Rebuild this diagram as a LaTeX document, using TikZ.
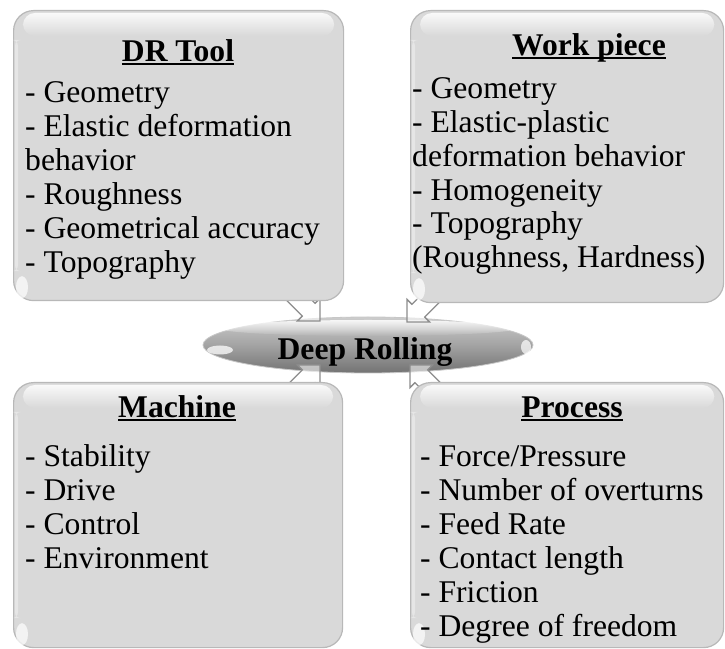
\documentclass[tikz,border=0pt]{standalone}
\usepackage{fontspec}
\setmainfont{Liberation Serif}
\usetikzlibrary{shapes.geometric,fadings,calc}

\tikzfading[name=glossfade, top color=transparent!15, bottom color=transparent!100]

\newcommand\headline[1]{\setbox0\hbox{#1}\rlap{\rule[-3.2pt]{\wd0}{1.7pt}}\box0}

\tikzset{
  panel/.style={rectangle, rounded corners=20pt, fill=black!15, draw=black!28,
    line width=1.2pt, anchor=north west, inner sep=0pt},
  item/.style={anchor=base west, inner sep=0pt, font=\fontsize{31.6}{34}\selectfont},
  heading/.style={anchor=base, inner sep=0pt, font=\fontsize{31.6}{34}\selectfont\bfseries},
  hub/.style={ellipse, minimum width=330pt, minimum height=56pt, inner sep=0pt,
    top color=black!20, bottom color=black!55, middle color=black!36,
    draw=black!22, line width=0.8pt, font=\fontsize{31.6}{34}\selectfont\bfseries},
  feed/.style={fill=white, fill opacity=0.55, draw=black!45, line width=1.3pt},
  pics/feedarrow/.style={code={
    \draw[feed] (0,0) -- (-16,16) -- (-16,9) -- (-64,9) -- (-64,-9)
      -- (-16,-9) -- (-16,-16) -- cycle;}},
}

\begin{document}
\begin{tikzpicture}[x=1pt,y=1pt]
  \fill[white] (0,0) rectangle (725,648);
  \useasboundingbox (0,0) rectangle (725,648);

  % central ellipse
  \node[hub] (core) at (368,303) {};
  \fill[white, path fading=glossfade] ($(core.center)+(0,17)$) ellipse [x radius=150, y radius=8];
  \fill[white, opacity=0.75] ($(core.center)+(-148,-5)$) ellipse [x radius=13, y radius=4.5];
  \fill[white, opacity=0.7] ($(core.center)+(158,-2)$) ellipse [x radius=5, y radius=7];
  \node[inner sep=0pt, anchor=base, font=\fontsize{31.6}{34}\selectfont\bfseries]
    (corelabel) at ($(core.center)+(-3,-15)$) {Deep Rolling};

  % arrows pointing into the ellipse
  \pic[rotate=-45]  (fa) at ($(core.center)+(-48,24)$) {feedarrow};
  \pic[rotate=-135] (fb) at ($(core.center)+(39,23)$)  {feedarrow};
  \pic[rotate=45]   (fc) at ($(core.center)+(-48,-20)$) {feedarrow};
  \pic[rotate=135]  (fd) at ($(core.center)+(42,-20)$)  {feedarrow};

  % four panels
  \node[panel, minimum width=330pt, minimum height=290pt] (tool)    at (13,638)  {};
  \node[panel, minimum width=313pt, minimum height=292pt] (piece)   at (410,638) {};
  \node[panel, minimum width=329pt, minimum height=265pt] (machine) at (13,266)  {};
  \node[panel, minimum width=313pt, minimum height=265pt] (process) at (410,266) {};

  % glossy highlights along the top edge and the lower left corner
  \foreach \p in {tool,piece,machine,process}{
    \fill[white, path fading=glossfade, rounded corners=12pt]
      ($(\p.north west)+(10,-3)$) rectangle ($(\p.north east)+(-10,-26)$);
    \fill[white, opacity=0.35, rounded corners=6pt]
      ($(\p.north west)+(2,-30)$) rectangle ($(\p.south west)+(5,30)$);
    \fill[white, opacity=0.7] ($(\p.south west)+(9,14)$) ellipse [x radius=6, y radius=11];
  }

  % DR Tool
  \node[heading] (toolhead) at (178,586) {\headline{DR Tool}};
  \foreach \t [count=\i] in {- Geometry, - Elastic deformation, behavior,
      - Roughness, - Geometrical accuracy, - Topography}
    \node[item] (tool-\i) at (25,545-34*\i+34) {\t};

  % Work piece
  \node[heading] (piecehead) at (589,592) {\headline{Work piece}};
  \foreach \t [count=\i] in {- Geometry, - Elastic-plastic, deformation behavior,
      - Homogeneity, - Topography, {(Roughness, Hardness)}}
    \node[item] (piece-\i) at (412,549-33.7*\i+33.7) {\t};

  % Machine
  \node[heading] (machinehead) at (177,230) {\headline{Machine}};
  \foreach \t [count=\i] in {- Stability, - Drive, - Control, - Environment}
    \node[item] (machine-\i) at (25,181-33.7*\i+33.7) {\t};

  % Process
  \node[heading] (processhead) at (572,230) {\headline{Process}};
  \foreach \t [count=\i] in {- Force/Pressure, - Number of overturns, - Feed Rate,
      - Contact length, - Friction, - Degree of freedom}
    \node[item] (process-\i) at (420,181-33.8*\i+33.8) {\t};
\end{tikzpicture}
\end{document}
